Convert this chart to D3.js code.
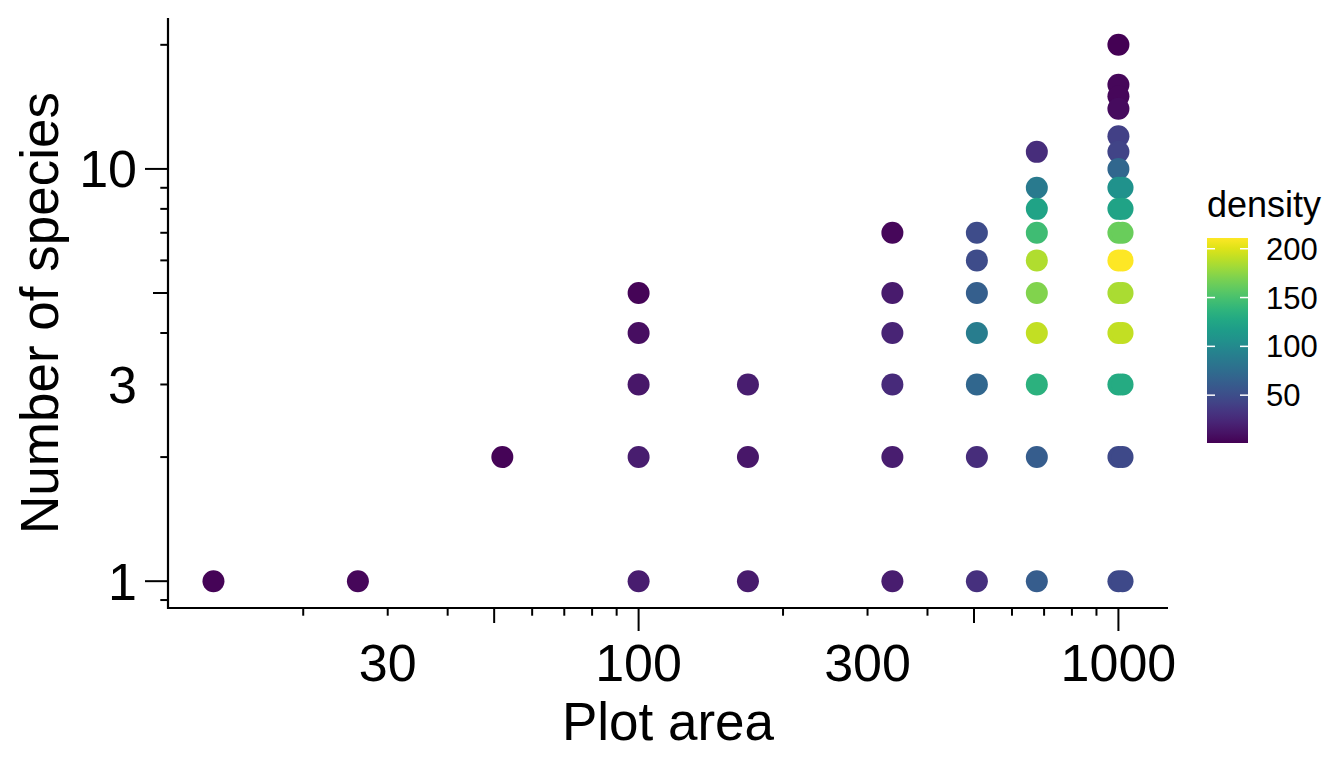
<!DOCTYPE html>
<html>
<head>
<meta charset="utf-8">
<script src="https://cdn.jsdelivr.net/npm/d3@7"></script>
<style>
  html, body { margin: 0; padding: 0; background: #ffffff; }
  svg { display: block; font-family: "Liberation Sans", Arial, Helvetica, sans-serif; }
</style>
</head>
<body>
<svg id="chart" width="1344" height="768"></svg>
<script>
// ---- data ----
const plotArea = [13, 26, 52,
  100, 100, 100, 100, 100,
  169, 169, 169,
  338, 338, 338, 338, 338, 338,
  507, 507, 507, 507, 507, 507, 507,
  676, 676, 676, 676, 676, 676, 676, 676, 676, 676,
  1000, 1000, 1000, 1000, 1000, 1000, 1000, 1000, 1000, 1000, 1000, 1000, 1000, 1000, 1000, 1000,
  1020, 1020, 1020, 1020, 1020, 1020, 1020, 1020, 1020];
const numSpecies = [1, 1, 2,
  5, 4, 3, 2, 1,
  3, 2, 1,
  7, 5, 4, 3, 2, 1,
  7, 6, 5, 4, 3, 2, 1,
  11, 9, 8, 7, 6, 5, 4, 3, 2, 1,
  20, 16, 15, 14, 12, 11, 10, 9, 8, 7, 6, 5, 4, 3, 2, 1,
  9, 8, 7, 6, 5, 4, 3, 2, 1];
const density = [3, 5, 3,
  3, 9, 14, 18, 18,
  18, 14, 16,
  5, 16, 22, 26, 18, 18,
  49, 49, 64, 89, 70, 28, 30,
  28, 87, 123, 146, 186, 171, 192, 135, 62, 62,
  1, 5, 5, 7, 41, 43, 70, 108, 123, 163, 211, 184, 192, 129, 47, 47,
  108, 123, 163, 211, 184, 192, 129, 47, 47];
const xBreaks = [30, 100, 300, 1000];
const yBreaks = [1, 3, 10];
const legendBreaks = [50, 100, 150, 200];
const xTitle = "Plot area";
const yTitle = "Number of species";
const legendTitle = "density";

// ---- layout ----
const svg = d3.select("#chart");
const panel = { left: 168, right: 1168, top: 18, bottom: 608 };

// ggplot-like 5% expansion in log space
function expandedLog(vals) {
  const [a, b] = d3.extent(vals).map(Math.log10);
  const pad = (b - a) * 0.05;
  return [Math.pow(10, a - pad), Math.pow(10, b + pad)];
}

const x = d3.scaleLog().domain(expandedLog(plotArea)).range([panel.left, panel.right]);
const y = d3.scaleLog().domain(expandedLog(numSpecies)).range([panel.bottom, panel.top]);
const color = d3.scaleSequential(d3.interpolateViridis).domain(d3.extent(density));

// ---- log ticks (annotation_logticks style) ----
function logTicks(domain) {
  const out = [];
  const lo = Math.floor(Math.log10(domain[0])) - 1;
  const hi = Math.ceil(Math.log10(domain[1])) + 1;
  for (let e = lo; e <= hi; e++) {
    for (let m = 1; m <= 9; m++) {
      const v = m * Math.pow(10, e);
      if (v >= domain[0] && v <= domain[1]) {
        out.push({ v, len: m === 1 ? 23 : (m === 5 ? 15 : 7.7) });
      }
    }
  }
  return out;
}

// x axis
const gx = svg.append("g");
gx.append("line")
  .attr("x1", panel.left - 1).attr("x2", panel.right)
  .attr("y1", panel.bottom).attr("y2", panel.bottom)
  .attr("stroke", "#000").attr("stroke-width", 2.2);
gx.selectAll("line.tick").data(logTicks(x.domain())).enter().append("line")
  .attr("class", "tick")
  .attr("x1", d => x(d.v)).attr("x2", d => x(d.v))
  .attr("y1", panel.bottom).attr("y2", d => panel.bottom + d.len)
  .attr("stroke", "#000").attr("stroke-width", 2);
gx.selectAll("text").data(xBreaks).enter().append("text")
  .attr("x", d => x(d)).attr("y", 681)
  .attr("text-anchor", "middle")
  .attr("font-size", 52).attr("fill", "#000")
  .text(d => d);

// y axis
const gy = svg.append("g");
gy.append("line")
  .attr("x1", panel.left).attr("x2", panel.left)
  .attr("y1", panel.top).attr("y2", panel.bottom + 1)
  .attr("stroke", "#000").attr("stroke-width", 2.2);
gy.selectAll("line.tick").data(logTicks(y.domain())).enter().append("line")
  .attr("class", "tick")
  .attr("y1", d => y(d.v)).attr("y2", d => y(d.v))
  .attr("x1", panel.left).attr("x2", d => panel.left - d.len)
  .attr("stroke", "#000").attr("stroke-width", 2);
gy.selectAll("text").data(yBreaks).enter().append("text")
  .attr("x", 137).attr("y", d => y(d) + 18.5)
  .attr("text-anchor", "end")
  .attr("font-size", 52).attr("fill", "#000")
  .text(d => d);

// axis titles
svg.append("text")
  .attr("x", (panel.left + panel.right) / 2).attr("y", 740)
  .attr("text-anchor", "middle").attr("font-size", 53).attr("fill", "#000")
  .text(xTitle);
svg.append("text")
  .attr("transform", `translate(58,${(panel.top + panel.bottom) / 2}) rotate(-90)`)
  .attr("text-anchor", "middle").attr("font-size", 53).attr("fill", "#000")
  .text(yTitle);

// points
const pts = plotArea.map((a, i) => ({ a, s: numSpecies[i], d: density[i] }));
svg.append("g").selectAll("circle").data(pts).enter().append("circle")
  .attr("cx", d => x(d.a)).attr("cy", d => y(d.s)).attr("r", 11)
  .attr("fill", d => color(d.d));

// ---- legend (colourbar) ----
const bar = { x: 1207, y: 238, w: 41, h: 205 };
const defs = svg.append("defs");
const grad = defs.append("linearGradient").attr("id", "vir")
  .attr("x1", 0).attr("y1", 1).attr("x2", 0).attr("y2", 0);
d3.range(0, 1.0001, 0.05).forEach(t => {
  grad.append("stop").attr("offset", t).attr("stop-color", d3.interpolateViridis(t));
});
svg.append("text")
  .attr("x", bar.x).attr("y", 217)
  .attr("font-size", 36).attr("fill", "#000")
  .text(legendTitle);
svg.append("rect")
  .attr("x", bar.x).attr("y", bar.y).attr("width", bar.w).attr("height", bar.h)
  .attr("fill", "url(#vir)");
const ly = d3.scaleLinear().domain(color.domain()).range([bar.y + bar.h, bar.y]);
const lg = svg.append("g");
legendBreaks.forEach(v => {
  lg.append("line").attr("x1", bar.x).attr("x2", bar.x + 8)
    .attr("y1", ly(v)).attr("y2", ly(v)).attr("stroke", "#fff").attr("stroke-width", 1.5);
  lg.append("line").attr("x1", bar.x + bar.w - 8).attr("x2", bar.x + bar.w)
    .attr("y1", ly(v)).attr("y2", ly(v)).attr("stroke", "#fff").attr("stroke-width", 1.5);
  lg.append("text").attr("x", 1266).attr("y", ly(v) + 11)
    .attr("font-size", 31).attr("fill", "#000").text(v);
});
</script>
</body>
</html>
